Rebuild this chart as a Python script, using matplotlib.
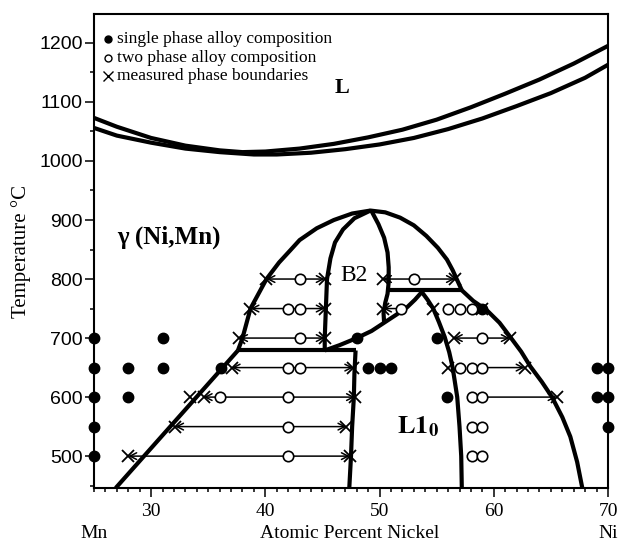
import matplotlib
matplotlib.use("Agg")
import matplotlib.pyplot as plt
from matplotlib.ticker import MultipleLocator, FixedLocator

plt.rcParams['mathtext.fontset'] = 'stix'

# ---------------- data ----------------
# liquidus / solidus (upper and lower curves)
liq_up_x = [25, 27, 30, 33, 36, 38, 40, 43, 46, 49, 52, 55, 58, 61, 64, 67, 70]
liq_up_T = [1073, 1058, 1039, 1026, 1018, 1015, 1016, 1021, 1029, 1040, 1053, 1070, 1091, 1114, 1138, 1165, 1195]
liq_lo_x = [25, 27, 30, 33, 36, 39, 41, 44, 47, 50, 53, 56, 59, 62, 65, 68, 70]
liq_lo_T = [1056, 1043, 1031, 1021, 1015, 1011, 1011, 1014, 1020, 1028, 1039, 1054, 1072, 1093, 1115, 1141, 1163]

# gamma / (gamma + L1_0) lower-left boundary
gl_x = [26.9, 37.6]
gl_T = [446, 679]
# gamma / (gamma + B2) upper boundary (left and right)
gu_x = [37.6, 38.0, 38.7, 40.1, 41.2, 42.2, 43.0, 44.5, 46.0, 47.6, 49.2,
        50.5, 51.8, 53.0, 54.1, 55.1, 55.9, 56.4, 56.8, 57.2]
gu_T = [679, 700, 750, 800, 828, 849, 866, 886, 900, 911, 916,
        913, 904, 891, 873, 853, 833, 815, 798, 781]
# B2 left and right boundaries
b2l_x = [45.2, 45.2, 45.3, 45.4, 45.7, 46.1, 46.8, 47.8, 49.2]
b2l_T = [679, 700, 750, 800, 835, 862, 884, 903, 916]
b2r_x = [49.3, 49.9, 50.4, 50.7, 50.8, 50.8, 50.7, 50.5, 50.35, 50.4]
b2r_T = [915, 893, 870, 845, 820, 795, 775, 760, 742, 726]
# L1_0 dome (left and right)
dl_x = [45.2, 46.5, 48.0, 49.3, 50.4, 51.5, 52.4, 53.1, 53.7]
dl_T = [679, 688, 700, 712, 726, 740, 752, 765, 778]
dr_x = [53.7, 54.2, 54.7, 55.2, 55.7, 56.1, 56.4, 56.8, 57.0, 57.15, 57.2]
dr_T = [778, 765, 750, 727, 702, 676, 650, 600, 550, 500, 446]
# L1_0 left boundary
l10_x = [47.9, 47.8, 47.75, 47.6, 47.5, 47.35]
l10_T = [679, 640, 600, 550, 500, 446]
# gamma / (gamma + L1_0) right boundary
gr_x = [57.2, 58.2, 59.4, 60.5, 61.4, 62.4, 63.2, 64.2, 65.1, 66.0, 66.7, 67.3, 67.75]
gr_T = [781, 763, 747, 726, 703, 677, 652, 626, 600, 566, 533, 490, 446]
# horizontal invariant lines
inv_T = [679, 781]
inv_x0 = [37.6, 50.6]
inv_x1 = [47.9, 57.2]

# tie lines with arrowheads at both ends
tie_T = [800, 750, 700, 650, 600, 550, 500, 800, 700]
tie_left = [40.1, 38.7, 37.7, 37.05, 34.6, 32.1, 28.0, 50.3, 56.5]
tie_right = [45.2, 45.2, 45.2, 47.7, 47.85, 47.1, 47.4, 56.6, 61.4]
# one-sided tie lines (from, to)
half_T = [750, 650, 600]
half_from = [51.9, 59.0, 59.0]
half_to = [50.3, 62.7, 65.5]

# single phase alloys (filled)
single_x = [25, 25, 25, 25, 25, 28, 28, 31, 31, 36.1, 48, 49, 50, 51, 55, 55.9, 59, 69, 70, 69, 70, 70]
single_T = [500, 550, 600, 650, 700, 600, 650, 650, 700, 650, 700, 650, 650, 650, 700, 600, 750, 650, 650, 600, 600, 550]
# two phase alloys (open)
two_x = [43.0, 42.0, 43.0, 43.0, 42.0, 43.0, 36.0, 42.0, 42.0, 42.0,
         53.0, 51.9, 56.0, 57.05, 58.1, 59.0, 57.05, 58.1, 59.0, 58.1, 59.0, 58.1, 59.0, 58.1, 59.0]
two_T = [800, 750, 750, 700, 650, 650, 600, 600, 550, 500,
         800, 750, 750, 750, 750, 700, 650, 650, 650, 600, 600, 550, 550, 500, 500]
# measured phase boundaries (x)
meas_x = [40.1, 45.2, 38.7, 45.2, 37.7, 45.2, 37.05, 47.7, 33.4, 34.6, 47.85, 32.1, 47.1, 28.0, 47.4,
          50.3, 56.6, 50.3, 54.7, 59.0, 56.5, 61.4, 56.0, 62.7, 65.5]
meas_T = [800, 800, 750, 750, 700, 700, 650, 650, 600, 600, 600, 550, 550, 500, 500,
          800, 800, 750, 750, 750, 700, 700, 650, 650, 600]

xticks = [30, 40, 50, 60, 70]
yticks = [500, 600, 700, 800, 900, 1000, 1100, 1200]

# ---------------- figure ----------------
fig = plt.figure(figsize=(6.23, 5.41), dpi=100)
ax = fig.add_axes([94/623, 53/541, 514/623, 474/541])
ax.set_xlim(25, 70)
ax.set_ylim(446, 1249)

SERIF = 'Liberation Serif'
SANS = 'Liberation Sans'
LW = 3.0

def bline(xs, ts):
    ax.plot(xs, ts, color='black', lw=LW, solid_joinstyle='round', solid_capstyle='butt', zorder=3)

bline(liq_up_x, liq_up_T)
bline(liq_lo_x, liq_lo_T)
bline(gl_x, gl_T)
bline(gu_x, gu_T)
bline(b2l_x, b2l_T)
bline(b2r_x, b2r_T)
bline(dl_x, dl_T)
bline(dr_x, dr_T)
bline(l10_x, l10_T)
bline(gr_x, gr_T)
for T, a, b in zip(inv_T, inv_x0, inv_x1):
    ax.plot([a, b], [T, T], color='black', lw=LW, solid_capstyle='butt', zorder=3)

# tie lines
for T, a, b in zip(tie_T, tie_left, tie_right):
    ax.annotate('', xy=(a, T), xytext=(b, T),
                arrowprops=dict(arrowstyle='<->', lw=1.1, color='black',
                                shrinkA=0, shrinkB=0, mutation_scale=12), zorder=2)
for T, a, b in zip(half_T, half_from, half_to):
    ax.annotate('', xy=(b, T), xytext=(a, T),
                arrowprops=dict(arrowstyle='->', lw=1.1, color='black',
                                shrinkA=0, shrinkB=0, mutation_scale=12), zorder=2)

# markers
ax.plot(single_x, single_T, 'o', color='black', ms=7.5, zorder=5, clip_on=False)
ax.plot(two_x, two_T, 'o', mfc='white', mec='black', mew=1.2, ms=7.5, zorder=6)
ax.plot(meas_x, meas_T, 'x', color='black', mew=1.3, ms=8, zorder=7)

# region labels
ax.text(46.7, 1124, 'L', fontfamily=SERIF, fontweight='bold', fontsize=16, ha='center', va='center')
ax.text(27.0, 870, 'γ (Ni,Mn)', fontfamily=SERIF, fontweight='bold', fontsize=18, ha='left', va='center')
ax.text(47.8, 806, 'B2', fontfamily=SERIF, fontsize=17, ha='center', va='center', zorder=8)
ax.text(53.4, 550, r'$\mathbf{L1_0}$', fontsize=19, ha='center', va='center')

# legend
lx, tx = 0.027, 0.045
ly = [0.947, 0.908, 0.870]
ax.plot([lx], [ly[0]], 'o', color='black', ms=5, transform=ax.transAxes, clip_on=False)
ax.plot([lx], [ly[1]], 'o', mfc='white', mec='black', mew=1.0, ms=5, transform=ax.transAxes, clip_on=False)
ax.plot([lx], [ly[2]], 'x', color='black', mew=1.0, ms=6.5, transform=ax.transAxes, clip_on=False)
for y, s in zip(ly, ['single phase alloy composition', 'two phase alloy composition', 'measured phase boundaries']):
    ax.text(tx, y, s, fontfamily=SERIF, fontsize=12.5, ha='left', va='center', transform=ax.transAxes)

# axes styling
for sp in ax.spines.values():
    sp.set_linewidth(1.5)
ax.xaxis.set_major_locator(FixedLocator(xticks))
ax.xaxis.set_minor_locator(MultipleLocator(1))
ax.yaxis.set_major_locator(FixedLocator(yticks))
ax.yaxis.set_minor_locator(MultipleLocator(50))
ax.tick_params(axis='both', which='major', direction='out', length=6.5, width=1.1)
ax.tick_params(axis='both', which='minor', direction='out', length=3, width=1.1)
ax.tick_params(axis='x', which='major', pad=4)
ax.tick_params(axis='y', which='major', pad=1.5)
ax.set_xticklabels([str(v) for v in xticks], fontfamily=SERIF, fontsize=14)
ax.set_yticklabels([str(v) for v in yticks], fontfamily=SANS, fontsize=14)

ax.set_ylabel('Temperature °C', fontfamily=SERIF, fontsize=15, labelpad=6)

# bottom labels
ax.text(25, -0.095, 'Mn', fontfamily=SERIF, fontsize=14, ha='center', va='center',
        transform=ax.get_xaxis_transform())
ax.text(70, -0.095, 'Ni', fontfamily=SERIF, fontsize=14, ha='center', va='center',
        transform=ax.get_xaxis_transform())
ax.text(47.4, -0.095, 'Atomic Percent Nickel', fontfamily=SERIF, fontsize=14, ha='center', va='center',
        transform=ax.get_xaxis_transform())

fig.savefig('out.png', dpi=100)
